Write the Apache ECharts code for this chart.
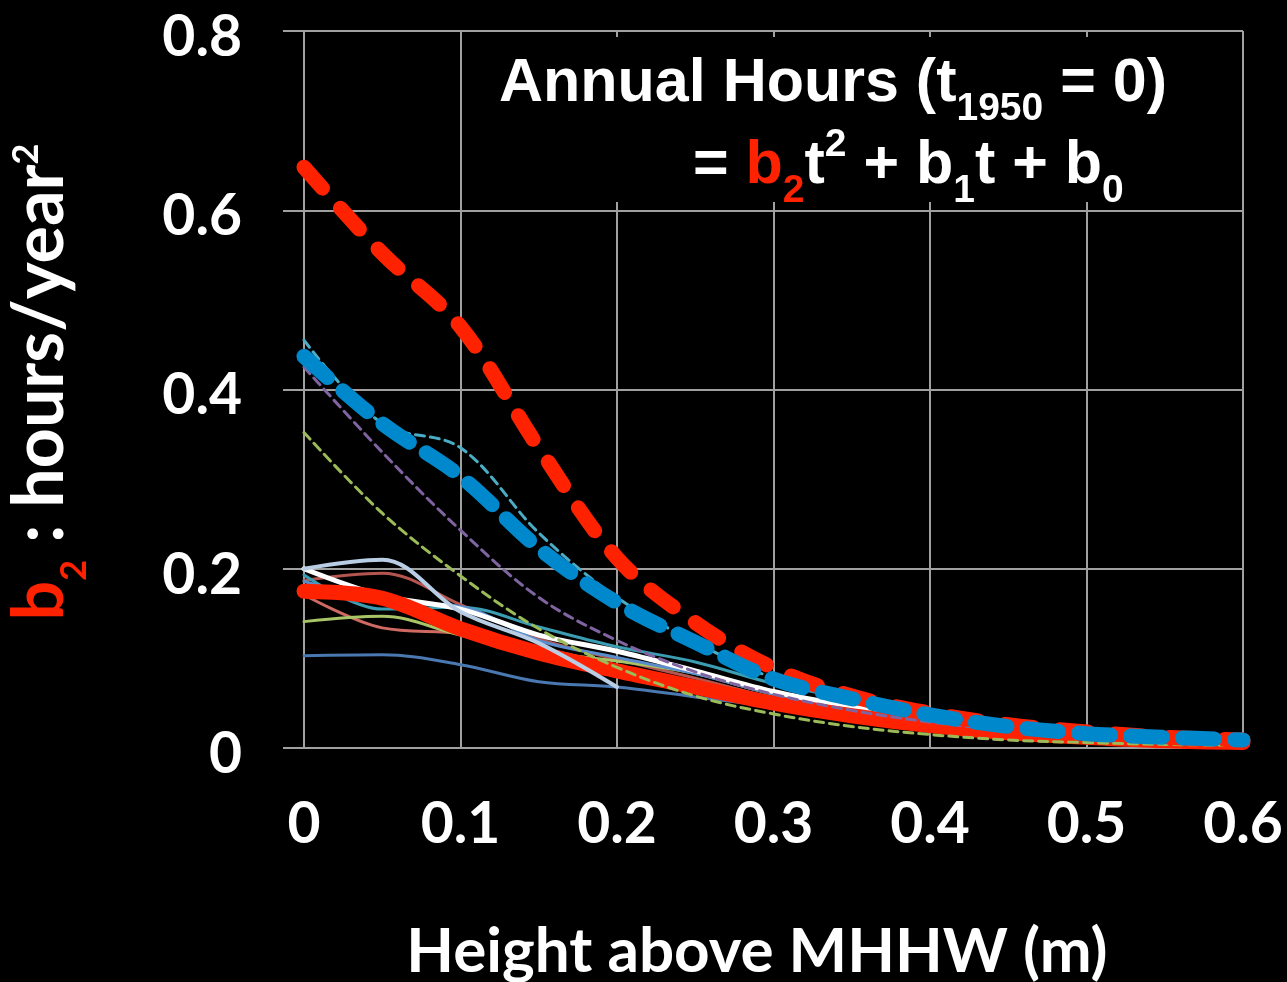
<!DOCTYPE html>
<html><head><meta charset="utf-8">
<script src="https://cdn.jsdelivr.net/npm/echarts@6/dist/echarts.min.js"></script>
<style>html,body{margin:0;padding:0;background:#000;}#c{width:1287px;height:982px;}</style>
</head><body><div id="c"></div>
<script>
// Height above MHHW (m)
const heights = [0, 0.05, 0.1, 0.15, 0.2, 0.25, 0.3, 0.35, 0.4, 0.45, 0.5, 0.55, 0.6];
const xTicks = [0, 0.1, 0.2, 0.3, 0.4, 0.5, 0.6];
const yTicks = [0, 0.2, 0.4, 0.6, 0.8];
// b2 (hours/year^2) per station / aggregate
const redDash    = [0.648, 0.552, 0.470, 0.335, 0.212, 0.140, 0.089, 0.058, 0.039, 0.026, 0.018, 0.012, 0.009];
const blueDash   = [0.437, 0.362, 0.303, 0.223, 0.162, 0.118, 0.077, 0.055, 0.037, 0.024, 0.016, 0.012, 0.009];
const cyanDash   = [0.455, 0.362, 0.335, 0.240, 0.168, 0.118, 0.078, 0.056, 0.038, 0.026, 0.018, 0.013, 0.010];
const purpleDash = [0.425, 0.330, 0.243, 0.168, 0.120, 0.085, 0.060, 0.042, 0.029, 0.020, 0.014, 0.010, 0.007];
const greenDash  = [0.352, 0.262, 0.192, 0.133, 0.090, 0.058, 0.038, 0.024, 0.015, 0.009, 0.006, 0.004, 0.003];
const redSolid   = [0.175, 0.167, 0.133, 0.106, 0.086, 0.068, 0.050, 0.036, 0.025, 0.017, 0.012, 0.008, 0.006];
const whiteLine  = [0.200, 0.170, 0.155, 0.126, 0.108, 0.086, 0.063, 0.046, 0.032, 0.022, 0.015, 0.011, 0.008];
const tealLine   = [0.193, 0.155, 0.157, 0.135, 0.113, 0.096, 0.072, 0.055, 0.040, 0.030, 0.021, 0.015, 0.011];
const medBlue    = [0.186, 0.163, 0.158, 0.120, 0.101, 0.083, 0.060, 0.043, 0.030, 0.021, 0.014, 0.010, 0.007];
const darkRed    = [0.187, 0.195, 0.160, 0.122, 0.099, 0.078, 0.056, 0.040, 0.028, 0.019, 0.013, 0.009, 0.006];
const salmon     = [0.171, 0.134, 0.128, 0.112, 0.092, 0.072, 0.052, 0.037, 0.026, 0.018, 0.012, 0.008, 0.006];
const greenSolid = [0.141, 0.147, 0.126, 0.108, 0.097, 0.083, 0.060, 0.043, 0.030, 0.020, 0.013, 0.009, 0.006];
const steelBlue  = [0.103, 0.104, 0.093, 0.074, 0.068, 0.057, 0.046, 0.035, 0.025, 0.018, 0.012, 0.009, 0.006];
const lightSteel = [0.200, 0.210, 0.152, 0.117, 0.068];

function mk(name, vals, color, width, dash, z) {
  return {
    name: name, type: 'line', smooth: 0.35, symbol: 'none', z: z, silent: true,
    data: vals.map(function (v, i) { return [heights[i], v]; }),
    lineStyle: { color: color, width: width, type: dash || 'solid', cap: 'round', join: 'round' }
  };
}

const chart = echarts.init(document.getElementById('c'), null, { renderer: 'canvas' });
const grayLine = { color: '#a0a0a0', width: 2 };
const tickFont = { color: '#fff', fontFamily: 'Lato', fontWeight: 'bold', fontSize: 57 };
const titleMain = { fontFamily: 'Liberation Sans', fontWeight: 'bold', fontSize: 61, color: '#fff', lineHeight: 90 };
const titleSub = { fontFamily: 'Liberation Sans', fontWeight: 'bold', fontSize: 39, color: '#fff', verticalAlign: 'bottom' };
const yMain = { fontFamily: 'Lato', fontWeight: 'bold', fontSize: 70, lineHeight: 128 };
const ySmall = { fontFamily: 'Lato', fontWeight: 'bold', fontSize: 36 };

chart.setOption({
  backgroundColor: '#000',
  animation: false,
  graphic: [{ type: 'rect', z: 5, shape: { x: 478, y: 37, width: 758, height: 165 }, style: { fill: '#000' } }],
  title: [
    { left: 499, top: 39, padding: 0, z: 10,
      text: '{a|Annual Hours (t}{s|1950}{a| = 0)}',
      textStyle: { rich: { a: titleMain, s: titleSub } } },
    { left: 693, top: 121, padding: 0, z: 10,
      text: '{a|= }{r|b}{rs|2}{a|t}{p|2}{a| + b}{s|1}{a|t + b}{s|0}',
      textStyle: { rich: {
        a: titleMain,
        r: Object.assign({}, titleMain, { color: '#ff2200' }),
        rs: Object.assign({}, titleSub, { color: '#ff2200' }),
        s: titleSub,
        p: Object.assign({}, titleSub, { verticalAlign: 'top', padding: [5, 0, 0, 0] })
      } } }
  ],
  grid: { left: 304, right: 44, top: 31, bottom: 234, containLabel: false, outerBoundsMode: 'none' },
  xAxis: {
    type: 'value', min: xTicks[0], max: xTicks[xTicks.length - 1], interval: 0.1,
    name: 'Height above MHHW (m)', nameLocation: 'middle', nameGap: 173,
    nameTextStyle: { color: '#fff', fontFamily: 'Lato', fontWeight: 'bold', fontSize: 62, padding: [0, 33, 0, 0] },
    axisLine: { show: true, lineStyle: grayLine },
    axisTick: { show: false },
    splitLine: { show: true, lineStyle: grayLine },
    axisLabel: Object.assign({ margin: 48, showMaxLabel: true, showMinLabel: true,
      formatter: function (v) { return String(v); } }, tickFont)
  },
  yAxis: {
    type: 'value', min: yTicks[0], max: yTicks[yTicks.length - 1], interval: 0.2,
    name: '{r|b}{rs|2}{w| : hours/year}{ws|2}', nameLocation: 'middle', nameGap: 200, nameRotate: 90,
    nameTextStyle: { padding: [0, 0, 0, 15], rich: {
      r: Object.assign({ color: '#ff2200' }, yMain),
      rs: Object.assign({ color: '#ff2200', verticalAlign: 'bottom', padding: [0, 0, 12, 0] }, ySmall),
      w: Object.assign({ color: '#fff' }, yMain),
      ws: Object.assign({ color: '#fff', verticalAlign: 'top', padding: [32, 0, 0, 0] }, ySmall)
    } },
    axisLine: { show: true, lineStyle: grayLine },
    axisTick: { show: true, length: 21, inside: false, lineStyle: grayLine },
    splitLine: { show: true, lineStyle: grayLine },
    axisLabel: {
      margin: 62,
      formatter: function (v) { return '{v|' + String(Math.round(v * 10) / 10) + '}'; },
      rich: { v: Object.assign({ padding: [13, 0, 0, 0] }, tickFont) }
    }
  },
  series: [
    mk('steel blue', steelBlue, '#4a78b0', 3, null, 2),
    mk('salmon', salmon, '#cf6a62', 3, null, 2),
    mk('dark red', darkRed, '#b45550', 3, null, 2),
    mk('green', greenSolid, '#a8c466', 3, null, 2),
    mk('teal', tealLine, '#3b9db2', 3, null, 2),
    mk('medium blue', medBlue, '#5a8ccb', 3, null, 2),
    mk('white', whiteLine, '#ffffff', 5, null, 3),
    mk('red solid', redSolid, '#ff2200', 15, null, 4),
    mk('light steel', lightSteel, '#b9cde5', 4, null, 5),
    mk('green dashed', greenDash, '#9bbb59', 3, [9, 6], 6),
    mk('purple dashed', purpleDash, '#8064a2', 3, [9, 6], 6),
    mk('cyan dashed', cyanDash, '#4bacc6', 3, [9, 6], 6),
    mk('red dashed', redDash, '#ff2200', 15, [28, 27], 7),
    mk('blue dashed', blueDash, '#0088cc', 15, [32, 20], 8)
  ]
});
</script></body></html>
